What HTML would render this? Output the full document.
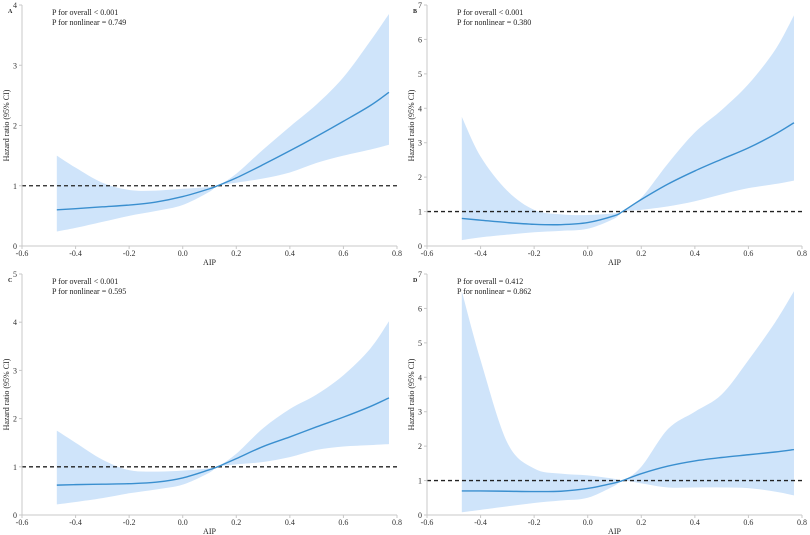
<!DOCTYPE html>
<html><head><meta charset="utf-8">
<style>
html,body{margin:0;padding:0;background:#fff;}
svg{display:block;font-family:"Liberation Serif",serif;}
</style></head>
<body>
<svg id="chart" width="810" height="535" viewBox="0 0 810 535"></svg>
<script>
const xs = [-0.47,-0.4,-0.3,-0.2,-0.1,0,0.1,0.13,0.2,0.3,0.4,0.5,0.6,0.7,0.77];
const xTicks = [-0.6,-0.4,-0.2,0.0,0.2,0.4,0.6,0.8];
const estA = [0.6,0.62,0.65,0.68,0.73,0.82,0.95,1,1.13,1.35,1.58,1.82,2.07,2.33,2.55];
const lowA = [0.24,0.3,0.4,0.5,0.58,0.68,0.9,1,1.05,1.12,1.22,1.38,1.5,1.6,1.68];
const upA  = [1.5,1.3,1.05,0.93,0.92,0.95,0.98,1,1.2,1.6,1.98,2.35,2.8,3.4,3.85];
const estB = [0.8,0.75,0.68,0.63,0.62,0.68,0.88,1,1.35,1.8,2.18,2.52,2.85,3.25,3.58];
const lowB = [0.17,0.25,0.33,0.4,0.44,0.5,0.8,1,1.05,1.15,1.3,1.5,1.68,1.8,1.9];
const upB  = [3.75,2.6,1.6,1.05,0.92,0.9,0.95,1,1.4,2.4,3.3,3.95,4.7,5.7,6.7];
const estC = [0.62,0.63,0.64,0.65,0.68,0.77,0.94,1,1.17,1.42,1.62,1.83,2.03,2.25,2.43];
const lowC = [0.22,0.27,0.35,0.45,0.53,0.63,0.88,1,1.05,1.1,1.2,1.35,1.42,1.45,1.47];
const upC  = [1.75,1.5,1.15,0.93,0.9,0.92,0.97,1,1.27,1.8,2.2,2.5,2.9,3.45,4.02];
const estD = [0.7,0.7,0.69,0.68,0.69,0.77,0.93,1,1.2,1.42,1.57,1.67,1.75,1.83,1.9];
const lowD = [0.08,0.15,0.25,0.35,0.42,0.5,0.85,1,0.92,0.8,0.8,0.8,0.78,0.68,0.57];
const upD  = [6.5,4.5,2.1,1.35,1.2,1.15,1.05,1,1.4,2.5,3.0,3.5,4.5,5.6,6.5];
const yMaxes = [4,7,5,7];
const panelLabels = ["A","B","C","D"];
const pOverall = ["P for overall < 0.001","P for overall < 0.001","P for overall < 0.001","P for overall = 0.412"];
const pNonlin = ["P for nonlinear = 0.749","P for nonlinear = 0.380","P for nonlinear = 0.595","P for nonlinear = 0.862"];

const NS="http://www.w3.org/2000/svg";
const svg=document.getElementById('chart');
function mk(tag,attrs,parent){const e=document.createElementNS(NS,tag);for(const k in attrs)e.setAttribute(k,attrs[k]);(parent||svg).appendChild(e);return e;}
function smooth(pts){let d="M"+pts[0][0]+","+pts[0][1];for(let i=0;i<pts.length-1;i++){const p0=pts[i-1]||pts[i],p1=pts[i],p2=pts[i+1],p3=pts[i+2]||p2;const c1x=p1[0]+(p2[0]-p0[0])/6,c1y=p1[1]+(p2[1]-p0[1])/6,c2x=p2[0]-(p3[0]-p1[0])/6,c2y=p2[1]-(p3[1]-p1[1])/6;d+=" C"+c1x+","+c1y+" "+c2x+","+c2y+" "+p2[0]+","+p2[1];}return d;}
const panels=[
 {ox:0,top:5,bot:246,est:estA,low:lowA,up:upA},
 {ox:405,top:5,bot:246,est:estB,low:lowB,up:upB},
 {ox:0,top:274,bot:515,est:estC,low:lowC,up:upC},
 {ox:405,top:274,bot:515,est:estD,low:lowD,up:upD}];
panels.forEach((p,i)=>{
 const g=mk('g',{});
 
 
 const x0=p.ox+22,x1=p.ox+397,ymax=yMaxes[i];
 const sx=v=>x0+(v+0.6)/1.4*(x1-x0);
 const sy=v=>p.bot-v/ymax*(p.bot-p.top);
 const band=xs.map((x,k)=>[sx(x),sy(p.up[k])]);
 const lowPts=xs.map((x,k)=>[sx(x),sy(p.low[k])]).reverse();
 const bd=smooth(band)+" L"+smooth(lowPts).slice(1)+" Z";
 const ci=mk('path',{d:bd,fill:'#cfe4fa',stroke:'none'},g);
 
 
 const ref=mk('line',{x1:x0,x2:x1,y1:sy(1),y2:sy(1),stroke:'#222','stroke-width':1.3,'stroke-dasharray':'4,3'},g);
 
 
 const ln=mk('path',{d:smooth(xs.map((x,k)=>[sx(x),sy(p.est[k])])),fill:'none',stroke:'#3a8fcf','stroke-width':1.4},g);
 
 
 const ax=mk('path',{d:`M${x0},${p.top} V${p.bot} H${x1}`,fill:'none',stroke:'#c8c8c8','stroke-width':1},g);
 
 
 xTicks.forEach(t=>{
  mk('line',{x1:sx(t),x2:sx(t),y1:p.bot,y2:p.bot+3,stroke:'#c8c8c8'},g);
  const tl=mk('text',{x:sx(t),y:p.bot+10,'font-size':8,'text-anchor':'middle',fill:'#333'},g);
  tl.textContent=t.toFixed(1);
  
  
 });
 for(let v=0;v<=ymax;v++){
  mk('line',{x1:x0-3,x2:x0,y1:sy(v),y2:sy(v),stroke:'#c8c8c8'},g);
  const yl=mk('text',{x:x0-5,y:sy(v)+3,'font-size':8,'text-anchor':'end',fill:'#333'},g);
  yl.textContent=v;
  
  
 }
 const xt=mk('text',{x:sx(0.1),y:p.bot+19,'font-size':8,'text-anchor':'middle',fill:'#222'},g);
 xt.textContent='AIP';
 
 
 const cy=(p.top+p.bot)/2;
 const yt=mk('text',{x:p.ox+9,y:cy,'font-size':8,'text-anchor':'middle',fill:'#222',transform:`rotate(-90 ${p.ox+9} ${cy})`},g);
 yt.textContent='Hazard ratio (95% CI)';
 
 
 const pl=mk('text',{x:p.ox+8,y:p.top+8,'font-size':6,'font-weight':'bold',fill:'#222'},g);
 pl.textContent=panelLabels[i];
 
 
 const t1=mk('text',{x:p.ox+52,y:p.top+10,'font-size':8,fill:'#222'},g);
 t1.textContent=pOverall[i];
 
 
 const t2=mk('text',{x:p.ox+52,y:p.top+20,'font-size':8,fill:'#222'},g);
 t2.textContent=pNonlin[i];
 
 
});
</script>
</body></html>
